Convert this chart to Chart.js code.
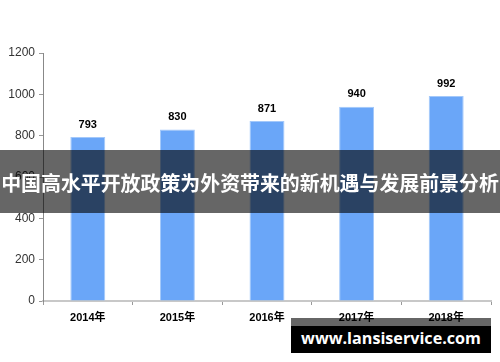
<!DOCTYPE html>
<html>
<head>
<meta charset="utf-8">
<script src="https://cdn.jsdelivr.net/npm/chart.js@4/dist/chart.umd.min.js"></script>
<style>
  html, body { margin: 0; padding: 0; background: #fff; }
  #wrap { position: relative; width: 500px; height: 362px; overflow: hidden; }
  #banner {
    position: absolute; left: 0; top: 150px; width: 500px; height: 63px;
    background: rgba(0, 0, 0, 0.6); color: #fff;
    font: bold 20px "Noto Sans CJK SC", sans-serif;
    line-height: 66px; text-align: center; white-space: nowrap;
  }
  #mark-top {
    position: absolute; left: 291px; top: 318px; width: 200px; height: 8px;
    background: rgba(0, 0, 0, 0.6);
  }
  #mark {
    position: absolute; left: 291px; top: 326px; width: 200px; height: 27px;
    background: #000; color: #fff;
    font: bold 16px "Open Sans", sans-serif;
    line-height: 24px; text-align: center; white-space: nowrap;
  }
  .fit { display: inline-block; }
</style>
</head>
<body>
<div id="wrap">
  <canvas id="chart" width="500" height="362"></canvas>
  <div id="banner"><span class="fit">中国高水平开放政策为外资带来的新机遇与发展前景分析</span></div>
  <div id="mark-top"></div>
  <div id="mark"><span class="fit">www.lansiservice.com</span></div>
</div>
<script>
// 数据
const years = ['2014年', '2015年', '2016年', '2017年', '2018年'];
const values = [793, 830, 871, 940, 992];

// 文字缩放到指定宽度
function fitText(box, target) {
    const span = box.querySelector('.fit');
    const size = parseFloat(getComputedStyle(box).fontSize);
    const w = span.getBoundingClientRect().width;
    box.style.fontSize = (size * target / w).toFixed(2) + 'px';
}
fitText(document.getElementById('banner'), 498);
fitText(document.getElementById('mark'), 180);

// 柱顶数值
const valueLabels = {
    id: 'valueLabels',
    afterDatasetsDraw(chart) {
        const ctx = chart.ctx;
        const meta = chart.getDatasetMeta(0);
        ctx.save();
        ctx.font = 'bold 11px "Liberation Sans", sans-serif';
        ctx.fillStyle = '#000';
        ctx.textAlign = 'center';
        ctx.textBaseline = 'bottom';
        meta.data.forEach((bar, i) => {
            ctx.fillText(values[i], bar.x, bar.y - 7);
        });
        ctx.restore();
    }
};

new Chart(document.getElementById('chart'), {
    type: 'bar',
    data: {
        labels: years,
        datasets: [{
            data: values,
            backgroundColor: '#6aa6f8',
            borderColor: '#a3c8fa',
            borderWidth: 1,
            barPercentage: 0.39,
            categoryPercentage: 1
        }]
    },
    options: {
        responsive: false,
        animation: false,
        layout: { padding: { left: 0, right: 9, top: 53, bottom: 0 } },
        plugins: {
            legend: { display: false },
            tooltip: { enabled: false }
        },
        scales: {
            x: {
                offset: true,
                grid: { offset: true, drawOnChartArea: false, tickLength: 4, color: '#999' },
                border: { color: '#c8c8c8', width: 2 },
                ticks: {
                    color: '#000',
                    font: { family: '"Liberation Sans", "Noto Sans CJK SC", sans-serif', size: 11, weight: 'bold' },
                    padding: 6
                },
                afterFit: scale => { scale.height = 61; }
            },
            y: {
                min: 0,
                max: 1200,
                ticks: {
                    stepSize: 200,
                    color: '#333',
                    font: { family: '"Liberation Sans", sans-serif', size: 12 },
                    padding: 4,
                    callback: v => String(v)
                },
                grid: { drawOnChartArea: false, tickLength: 4, color: '#999' },
                border: { color: '#888', width: 1 },
                afterFit: scale => { scale.width = 43; }
            }
        }
    },
    plugins: [valueLabels]
});
</script>
</body>
</html>
